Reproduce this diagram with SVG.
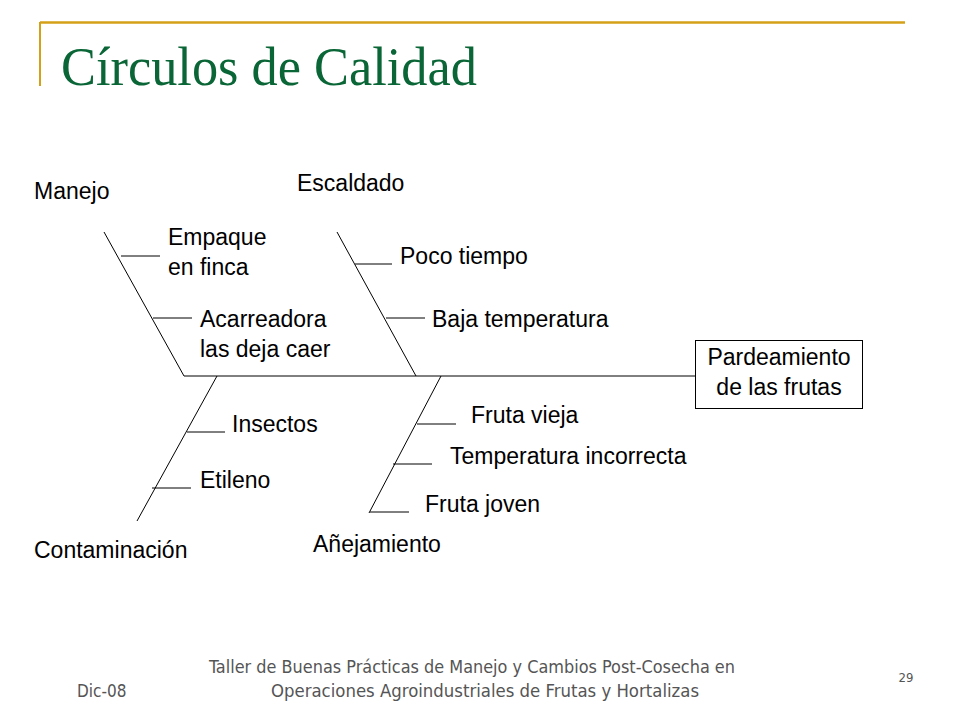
<svg xmlns="http://www.w3.org/2000/svg" width="960" height="720" viewBox="0 0 960 720">
<style>
.ln{stroke:#000;stroke-width:1;fill:none}
.t{font-family:"Liberation Sans",Arial,sans-serif;font-size:23px;fill:#000}
.f{font-family:"DejaVu Sans Condensed","DejaVu Sans",sans-serif;fill:#555}
</style>
<rect width="960" height="720" fill="#fff"/>
<g id="frame">
<line x1="40" y1="22.5" x2="905" y2="22.5" stroke="#D4A017" stroke-width="2.5"/>
<line x1="40" y1="22" x2="40" y2="86" stroke="#D4A017" stroke-width="2"/>
</g>
<text x="61" y="85" font-family="'Liberation Serif','Times New Roman',serif" font-size="54" fill="#0A6636" textLength="416" lengthAdjust="spacingAndGlyphs">Círculos de Calidad</text>
<g id="connectors">
<line class="ln" x1="184" y1="376" x2="695" y2="376"/>
<line class="ln" x1="104" y1="232" x2="184" y2="376"/>
<line class="ln" x1="337" y1="232" x2="416" y2="376"/>
<line class="ln" x1="217" y1="376" x2="137" y2="521"/>
<line class="ln" x1="441" y1="376" x2="369" y2="513"/>
<line class="ln" x1="121" y1="256" x2="160" y2="256"/>
<line class="ln" x1="153" y1="318" x2="192" y2="318"/>
<line class="ln" x1="355" y1="264" x2="392" y2="264"/>
<line class="ln" x1="386" y1="318" x2="425" y2="318"/>
<line class="ln" x1="187" y1="432" x2="225" y2="432"/>
<line class="ln" x1="152" y1="488" x2="191" y2="488"/>
<line class="ln" x1="417" y1="424" x2="456" y2="424"/>
<line class="ln" x1="393" y1="464" x2="432" y2="464"/>
<line class="ln" x1="370" y1="512" x2="409" y2="512"/>
</g>
<g id="effect">
<rect x="695.5" y="340.5" width="167" height="68" class="ln"/>
<text class="t" x="779" y="365" text-anchor="middle">Pardeamiento</text>
<text class="t" x="779" y="395" text-anchor="middle">de las frutas</text>
</g>
<g id="manejo"><text class="t" x="34" y="199">Manejo</text></g>
<g id="escaldado"><text class="t" x="297" y="191">Escaldado</text></g>
<g id="contaminacion"><text class="t" x="34" y="558">Contaminación</text></g>
<g id="anejamiento"><text class="t" x="313" y="552">Añejamiento</text></g>
<g id="empaque"><text class="t" x="168" y="245">Empaque</text><text class="t" x="168" y="275">en finca</text></g>
<g id="acarreadora"><text class="t" x="200" y="327">Acarreadora</text><text class="t" x="200" y="357">las deja caer</text></g>
<g id="poco"><text class="t" x="400" y="264">Poco tiempo</text></g>
<g id="baja"><text class="t" x="432" y="327">Baja temperatura</text></g>
<g id="insectos"><text class="t" x="232" y="432">Insectos</text></g>
<g id="etileno"><text class="t" x="200" y="488">Etileno</text></g>
<g id="vieja"><text class="t" x="471" y="423">Fruta vieja</text></g>
<g id="tempinc"><text class="t" x="450" y="464">Temperatura incorrecta</text></g>
<g id="joven"><text class="t" x="425" y="512">Fruta joven</text></g>
<g id="footer">
<text class="f" x="77" y="697" font-size="17">Dic-08</text>
<text class="f" x="472" y="673" font-size="17" text-anchor="middle" textLength="526" lengthAdjust="spacingAndGlyphs">Taller de Buenas Prácticas de Manejo y Cambios Post-Cosecha en</text>
<text class="f" x="485" y="697" font-size="17" text-anchor="middle" textLength="428" lengthAdjust="spacingAndGlyphs">Operaciones Agroindustriales de Frutas y Hortalizas</text>
<text class="f" x="906" y="682" font-size="13" text-anchor="middle">29</text>
</g>
</svg>
